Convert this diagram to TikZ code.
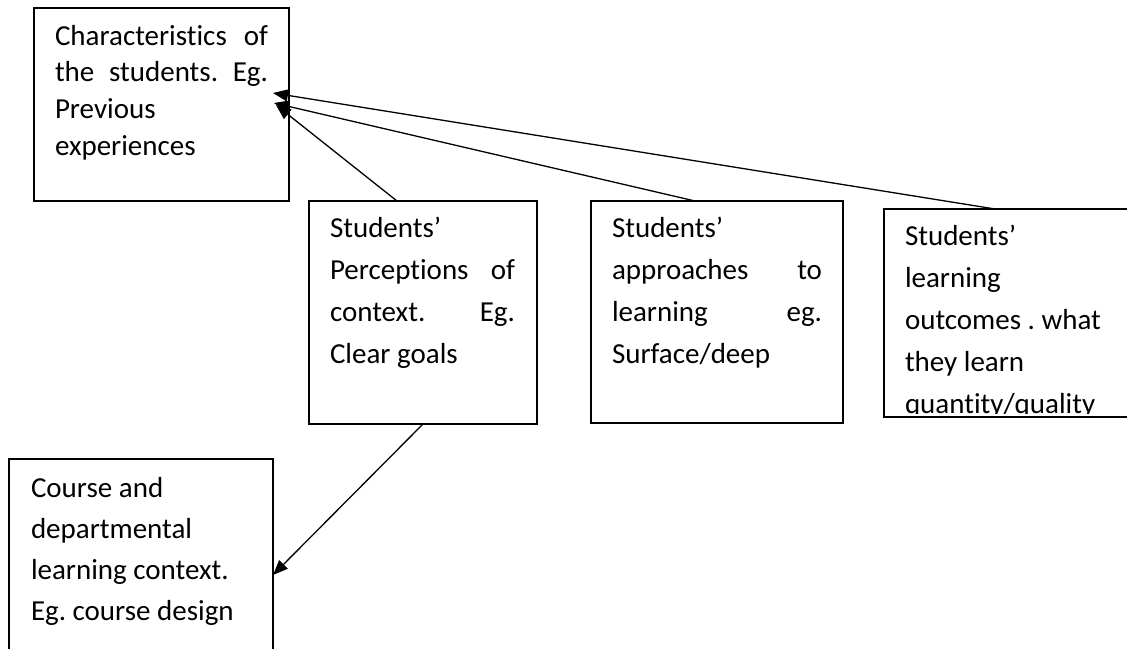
\documentclass[tikz,border=0pt]{standalone}
\usepackage{fontspec}
\setmainfont{Carlito}[Ligatures={NoCommon,TeX}]
\usetikzlibrary{arrows.meta}
\tikzset{
  box/.style={draw, line width=1.4pt, anchor=north west, inner sep=0pt, outer sep=0pt},
  txt/.style={anchor=base west, inner sep=0pt, outer sep=0pt},
  arr/.style={line width=1.3pt, -{Triangle[length=15pt,width=12pt]}},
}
\newcommand{\jl}[2]{\makebox[#1][s]{#2}}
\newcommand{\bigtxt}[1]{\fontsize{29}{#1}\selectfont\frenchspacing}
\begin{document}
\begin{tikzpicture}[x=1pt,y=-1pt]
\useasboundingbox (0,0) rectangle (1127,648);
\clip (0,0) rectangle (1127,648);
% boxes
\node[box, minimum width=255pt, minimum height=193pt] (b1) at (34,8) {};
\node[box, minimum width=228pt, minimum height=223pt] (b2) at (309,201) {};
\node[box, minimum width=252pt, minimum height=222pt] (b3) at (591,201) {};
\node[box, minimum width=260pt, minimum height=208pt] (b4) at (884,209) {};
\node[box, minimum width=264pt, minimum height=210pt] (b5) at (9,459) {};
% texts
\node[txt] (t1) at (55,45) {\parbox[t]{213pt}{\bigtxt{36.7}\jl{213pt}{Characteristics of}\\\jl{213pt}{the students. Eg.}\\Previous\\experiences}};
\node[txt] (t2) at (330,237) {\parbox[t]{185pt}{\bigtxt{42}Students’\\\jl{185pt}{Perceptions of}\\\jl{185pt}{context. Eg.}\\Clear goals}};
\node[txt] (t3) at (612,237) {\parbox[t]{210pt}{\bigtxt{42}Students’\\\jl{210pt}{approaches to}\\\jl{210pt}{learning eg.}\\Surface/deep}};
\begin{scope}
\clip (884,209) rectangle (1127,413);
\node[txt] (t4) at (905,245) {\parbox[t]{215pt}{\bigtxt{42}Students’\\learning\\outcomes . what\\they learn\\quantity/quality}};
\end{scope}
\node[txt] (t5) at (31,497) {\parbox[t]{235pt}{\bigtxt{41}Course and\\departmental\\learning context.\\Eg. course design}};
% connector end points
\coordinate (s4) at (995,209);
\coordinate (e4) at (273,93);
\coordinate (s3) at (695,201);
\coordinate (e3) at (274,103);
\coordinate (s2) at (397,201);
\coordinate (e2) at (276,105);
\coordinate (s5) at (423,424);
\coordinate (e5) at (273,575);
\draw[arr] (s4) -- (e4);
\draw[arr] (s3) -- (e3);
\draw[arr] (s2) -- (e2);
\draw[arr] (s5) -- (e5);
\end{tikzpicture}
\end{document}
